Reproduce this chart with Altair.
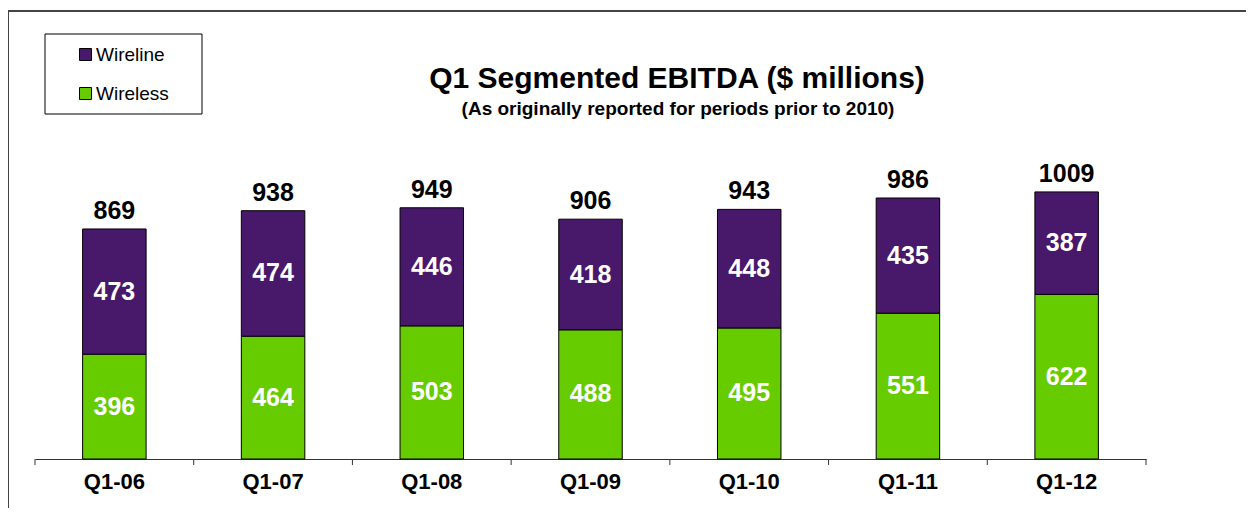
import altair as alt
import pandas as pd

quarters = ["Q1-06", "Q1-07", "Q1-08", "Q1-09", "Q1-10", "Q1-11", "Q1-12"]
wireless = [396, 464, 503, 488, 495, 551, 622]
wireline = [473, 474, 446, 418, 448, 435, 387]
totals = [869, 938, 949, 906, 943, 986, 1009]
segments = ["Wireline", "Wireless"]
seg_colors = ["#48186A", "#66CC00"]
title_text = "Q1 Segmented EBITDA ($ millions)"
subtitle_text = "(As originally reported for periods prior to 2010)"

FONT = "Liberation Sans"

rows = []
for q, wl, wn in zip(quarters, wireless, wireline):
    rows.append({"quarter": q, "segment": "Wireless", "value": wl, "ord": 0, "mid": wl / 2})
    rows.append({"quarter": q, "segment": "Wireline", "value": wn, "ord": 1, "mid": wl + wn / 2})
df = pd.DataFrame(rows)
tot = pd.DataFrame({"quarter": quarters, "total": totals})
bounds = pd.DataFrame({"b": list(range(len(quarters) + 1))})

W, H = 1111, 450
x_enc = alt.X(
    "quarter:N", sort=quarters, title=None,
    scale=alt.Scale(paddingInner=0.6, paddingOuter=0.3),
    axis=alt.Axis(labelAngle=0, labelFont=FONT, labelFontSize=22, labelFontWeight="bold",
                  labelColor="black", ticks=False,
                  domainColor="#333333", domainWidth=1, labelPadding=12),
)
y_scale = alt.Scale(domain=[0, 1700], nice=False, zero=True)

frame_top = alt.Chart(tot).mark_rule(color="#444444", strokeWidth=1.5).encode(
    x=alt.value(-27), x2=alt.value(1300), y=alt.value(2))
frame_left = alt.Chart(tot).mark_rule(color="#444444", strokeWidth=1.5).encode(
    x=alt.value(-27), y=alt.value(2), y2=alt.value(600))

legend_box = alt.Chart(pd.DataFrame({"a": [0]})).mark_rect(
    fill="white", stroke="black", strokeWidth=1).encode(
    x=alt.value(10), x2=alt.value(167), y=alt.value(25), y2=alt.value(105))

bars = alt.Chart(df).mark_bar(stroke="black", strokeWidth=1).encode(
    x=x_enc,
    y=alt.Y("value:Q", stack="zero", scale=y_scale, axis=None),
    color=alt.Color("segment:N", scale=alt.Scale(domain=segments, range=seg_colors),
                    legend=alt.Legend(title=None, orient="none", legendX=41, legendY=36,
                                      symbolType="square", symbolSize=144,
                                      symbolStrokeColor="black", symbolStrokeWidth=1,
                                      labelFont=FONT, labelFontSize=19, labelColor="black",
                                      labelOffset=1, rowPadding=19, padding=0)),
    order=alt.Order("ord:Q"),
)

seg_labels = alt.Chart(df).mark_text(font=FONT, fontSize=25, fontWeight="bold",
                                     color="white", baseline="middle").encode(
    x=alt.X("quarter:N", sort=quarters),
    y=alt.Y("mid:Q", scale=y_scale),
    text=alt.Text("value:Q"),
)

tot_labels = alt.Chart(tot).mark_text(font=FONT, fontSize=25, fontWeight="bold",
                                      color="black", baseline="alphabetic", dy=-10).encode(
    x=alt.X("quarter:N", sort=quarters),
    y=alt.Y("total:Q", scale=y_scale),
    text=alt.Text("total:Q"),
)

main = alt.layer(bars, seg_labels, tot_labels)

ticks = alt.Chart(bounds).mark_rule(color="#333333", strokeWidth=1).encode(
    x=alt.X("b:Q", scale=alt.Scale(domain=[0, len(quarters)], nice=False, zero=False), axis=None),
    y=alt.value(H), y2=alt.value(H + 6),
)

title = alt.Chart(pd.DataFrame({"t": [title_text]})).mark_text(
    font=FONT, fontSize=30, fontWeight="bold", color="black",
    baseline="alphabetic", align="center").encode(
    text="t:N", x=alt.value(642), y=alt.value(79))
subtitle = alt.Chart(pd.DataFrame({"t": [subtitle_text]})).mark_text(
    font=FONT, fontSize=19, fontWeight="bold", color="black",
    baseline="alphabetic", align="center").encode(
    text="t:N", x=alt.value(643), y=alt.value(106))

chart = alt.layer(frame_top, frame_left, legend_box, main, ticks, title, subtitle).resolve_scale(
    x="independent"
).properties(
    width=W, height=H,
    autosize=alt.AutoSizeParams(type="none"),
    padding={"left": 27, "top": 1, "right": 100, "bottom": 49},
    background="white",
).configure_view(stroke=None)

chart.save("out.html", embed_options={"renderer": "svg", "actions": False})
